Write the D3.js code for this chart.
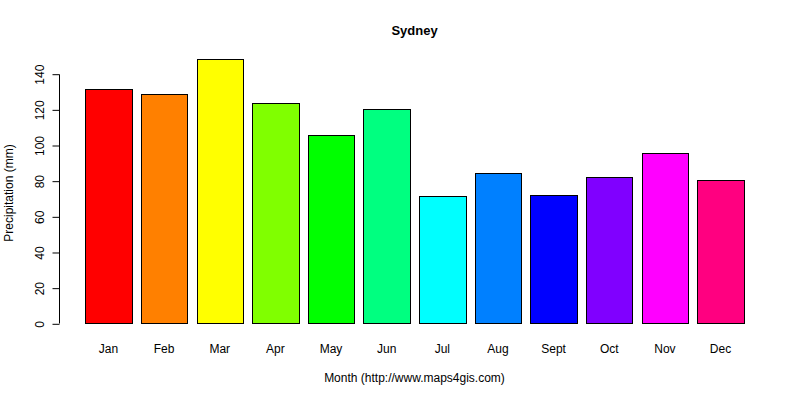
<!DOCTYPE html>
<html>
<head>
<meta charset="utf-8">
<script src="https://cdn.jsdelivr.net/npm/d3@7"></script>
<style>
  body { margin: 0; background: #fff; }
  svg text { font-family: "Liberation Sans", Arial, sans-serif; fill: #000; }
</style>
</head>
<body>
<svg id="chart"></svg>
<script>
// monthly precipitation, Sydney
const months = ['Jan', 'Feb', 'Mar', 'Apr', 'May', 'Jun', 'Jul', 'Aug', 'Sept', 'Oct', 'Nov', 'Dec'];
const rainfall = [131.2, 128.6, 148.0, 123.3, 105.4, 120.0, 71.2, 84.1, 71.8, 81.9, 95.3, 80.2];
const barColors = ['#FF0000', '#FF8000', '#FFFF00', '#80FF00', '#00FF00', '#00FF80',
                   '#00FFFF', '#0080FF', '#0000FF', '#8000FF', '#FF00FF', '#FF0080'];
const yTicks = [0, 20, 40, 60, 80, 100, 120, 140];

const width = 800, height = 400;

const svg = d3.select('#chart')
  .attr('width', width)
  .attr('height', height);

// barplot-style unit scale: bar width 1, space 0.2
const space = 0.2;
const x = d3.scaleLinear()
  .domain([0, months.length * (1 + space) + space])
  .range([76, 753]);

const y = d3.scaleLinear()
  .domain([0, 140])
  .range([323.3, 73.7]);

const barLeft = i => space + i * (1 + space);

// bars
svg.append('g')
  .selectAll('rect')
  .data(rainfall)
  .enter()
  .append('rect')
  .attr('x', (d, i) => Math.round(x(barLeft(i))) + 0.5)
  .attr('y', d => Math.round(y(d)) + 0.5)
  .attr('width', (d, i) => Math.round(x(barLeft(i) + 1)) - Math.round(x(barLeft(i))))
  .attr('height', d => Math.round(y(0)) - Math.round(y(d)))
  .attr('fill', (d, i) => barColors[i])
  .attr('stroke', '#000')
  .attr('stroke-width', 1);

// y axis, R style (line only over tick range)
const yAxis = d3.axisLeft(y)
  .tickValues(yTicks)
  .tickSize(7)
  .tickSizeOuter(0)
  .tickPadding(0);

const yg = svg.append('g')
  .attr('transform', 'translate(59.5,0.5)')
  .call(yAxis);

yg.select('.domain')
  .attr('d', `M0,${Math.round(y(0))}V${Math.round(y(140))}`)
  .attr('stroke', '#000');
yg.selectAll('.tick line').attr('stroke', '#000');
yg.selectAll('.tick text')
  .attr('x', null)
  .attr('dy', null)
  .attr('text-anchor', 'middle')
  .attr('transform', 'translate(-16,0) rotate(-90)')
  .attr('font-size', 12);

// month labels
svg.append('g')
  .selectAll('text')
  .data(months)
  .enter()
  .append('text')
  .attr('x', (d, i) => x(barLeft(i) + 0.5))
  .attr('y', 353)
  .attr('text-anchor', 'middle')
  .attr('font-size', 12)
  .text(d => d);

// title
svg.append('text')
  .attr('x', 414.5)
  .attr('y', 35)
  .attr('text-anchor', 'middle')
  .attr('font-size', 13)
  .attr('font-weight', 'bold')
  .text('Sydney');

// axis titles
svg.append('text')
  .attr('x', 414.5)
  .attr('y', 382)
  .attr('text-anchor', 'middle')
  .attr('font-size', 12)
  .text('Month (http://www.maps4gis.com)');

svg.append('text')
  .attr('transform', 'translate(13,193) rotate(-90)')
  .attr('text-anchor', 'middle')
  .attr('font-size', 12)
  .text('Precipitation (mm)');
</script>
</body>
</html>
